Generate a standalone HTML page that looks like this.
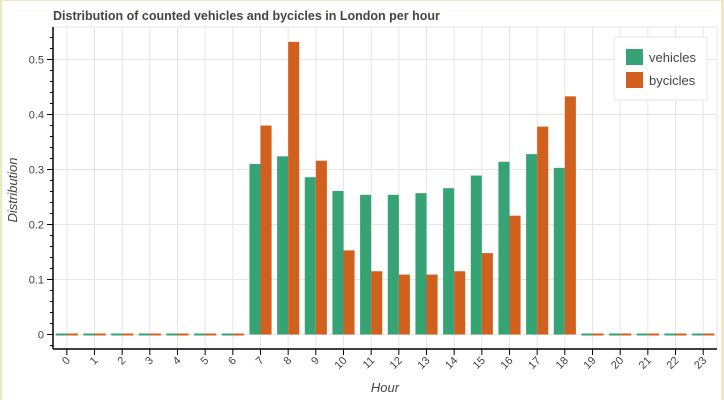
<!DOCTYPE html>
<html><head><meta charset="utf-8"><style>
body{margin:0;background:#fff;}
svg{display:block;font-family:"Liberation Sans",sans-serif;}
</style></head><body>
<svg id="chart" width="724" height="400">
<rect x="0" y="0" width="724" height="400" fill="#fff"/>
<rect x="0" y="0" width="2" height="400" fill="#efe6c4"/>
<rect x="721" y="0" width="3" height="400" fill="#efe6c4"/>
<rect x="0" y="0" width="724" height="1" fill="#efe6c4"/>
<text x="53" y="20" font-size="12.5" font-weight="bold" fill="#444">Distribution of counted vehicles and bycicles in London per hour</text>
<g id="grid"></g>
<g id="bars"></g>
<g id="axes"></g>
<text x="0" y="0" transform="translate(17,190) rotate(-90)" text-anchor="middle" font-size="13" font-style="italic" fill="#444">Distribution</text>
<text x="385" y="392" text-anchor="middle" font-size="13" font-style="italic" fill="#444">Hour</text>
<g>
<rect x="614" y="37" width="93" height="63" fill="#fff" stroke="#e6e6e6"/>
<g><rect x="626" y="49" width="17" height="16" fill="#36a374"/><text x="649" y="62" font-size="13" fill="#444">vehicles</text></g>
<g><rect x="626" y="72" width="17" height="16" fill="#d1601f"/><text x="649" y="85" font-size="13" fill="#444">bycicles</text></g>
</g>
</svg>
<script>
const categories=["0","1","2","3","4","5","6","7","8","9","10","11","12","13","14","15","16","17","18","19","20","21","22","23"];
const vehicles=[0,0,0,0,0,0,0,0.31,0.324,0.286,0.261,0.254,0.254,0.257,0.266,0.289,0.314,0.328,0.303,0,0,0,0,0];
const bycicles=[0,0,0,0,0,0,0,0.38,0.532,0.316,0.153,0.115,0.109,0.109,0.115,0.148,0.216,0.378,0.433,0,0,0,0,0];
const yTicks=[0,0.1,0.2,0.3,0.4,0.5];
const yTickLabels=["0","0.1","0.2","0.3","0.4","0.5"];
const NS="http://www.w3.org/2000/svg";
const L=53,R=717,T=27,B=349,Y0=334.5,PER=550;
const y=v=>Y0-v*PER;
const step=(R-L)/categories.length;
const xc=i=>L+step*(i+0.5);
function mk(tag,attrs,parent){const e=document.createElementNS(NS,tag);for(const k in attrs)e.setAttribute(k,attrs[k]);parent.appendChild(e);return e;}
const grid=document.getElementById('grid'),bars=document.getElementById('bars'),axes=document.getElementById('axes');
categories.forEach((c,i)=>{const g=mk('line',{x1:xc(i),x2:xc(i),y1:T,y2:B,stroke:'#e5e5e5'},grid);

});
yTicks.forEach(v=>{const g=mk('line',{x1:L,x2:R,y1:y(v),y2:y(v),stroke:'#e5e5e5'},grid);

});
mk('line',{x1:R,x2:R,y1:T,y2:B,stroke:'#e5e5e5'},grid);
mk('line',{x1:L,x2:R,y1:T,y2:T,stroke:'#e5e5e5'},grid);
const bw=step*0.4;
categories.forEach((c,i)=>{
 const hv=Math.max(vehicles[i]*PER,2), hb=Math.max(bycicles[i]*PER,2);
 const rv=mk('rect',{x:xc(i)-bw,y:y(vehicles[i])-(vehicles[i]?0:1),width:bw,height:hv,fill:'#36a374'},bars);
 
 
 const rb=mk('rect',{x:xc(i),y:y(bycicles[i])-(bycicles[i]?0:1),width:bw,height:hb,fill:'#d1601f'},bars);
 
 
});
const ya=mk('line',{x1:L,x2:L,y1:T,y2:B,stroke:'#000','stroke-width':1.5},axes);


const xa=mk('line',{x1:L,x2:R,y1:B,y2:B,stroke:'#000','stroke-width':1.5},axes);


for(let v=-0.02;v<=0.56;v+=0.02){const yy=y(v);if(yy<T||yy>B)continue;mk('line',{x1:L-3,x2:L,y1:yy,y2:yy,stroke:'#000'},axes);}
yTicks.forEach((v,i)=>{mk('line',{x1:L-6,x2:L,y1:y(v),y2:y(v),stroke:'#000'},axes);
const t=mk('text',{x:L-9,y:y(v)+4,'text-anchor':'end','font-size':11,fill:'#444'},axes);t.textContent=yTickLabels[i];

});
categories.forEach((c,i)=>{mk('line',{x1:xc(i),x2:xc(i),y1:B,y2:B+6,stroke:'#000'},axes);
const t=mk('text',{x:0,y:0,transform:`translate(${xc(i)+4},${B+12}) rotate(-45)`,'text-anchor':'end','font-size':11,fill:'#444'},axes);t.textContent=c;

});
</script>
</body></html>
